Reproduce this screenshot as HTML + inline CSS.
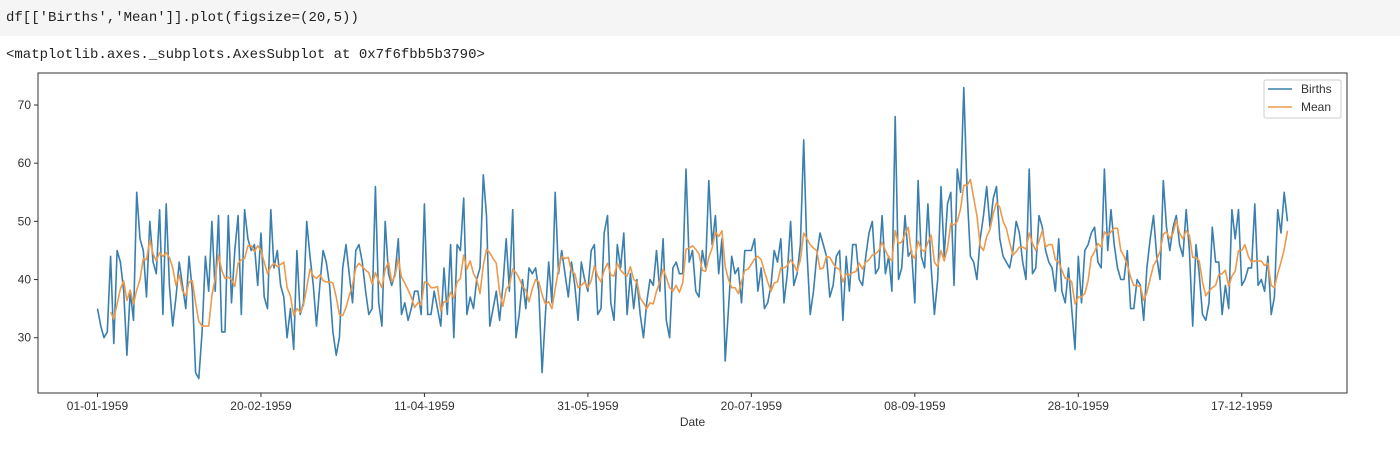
<!DOCTYPE html>
<html><head><meta charset="utf-8"><style>
body{margin:0;background:#fff;width:1400px;height:456px;overflow:hidden;font-family:"Liberation Sans",sans-serif}
.code{position:absolute;left:0;top:0;width:1400px;height:36px;background:#f5f5f5;font-family:"Liberation Mono",monospace;font-size:14px;line-height:36px;padding-left:6px;color:#222}
.out{position:absolute;left:6px;top:47px;font-family:"Liberation Mono",monospace;font-size:14px;color:#222}
</style></head><body>
<div class="code">df[['Births','Mean']].plot(figsize=(20,5))</div>
<div class="out">&lt;matplotlib.axes._subplots.AxesSubplot at 0x7f6fbb5b3790&gt;</div>
<svg id="chart" width="1400" height="456" style="position:absolute;left:0;top:0"></svg>
<script>
const births=[35,32,30,31,44,29,45,43,38,27,38,33,55,47,45,37,50,43,41,52,34,53,39,32,37,43,39,35,44,38,24,23,31,44,38,50,38,51,31,31,51,36,45,51,34,52,47,45,46,39,48,37,35,52,42,45,39,37,30,35,28,45,34,36,50,44,39,32,39,45,43,39,31,27,30,42,46,41,36,45,46,43,38,34,35,56,36,32,50,41,39,41,47,34,36,33,35,38,38,34,53,34,34,38,35,32,42,34,46,30,46,45,54,34,37,35,40,42,58,51,32,35,38,33,39,47,38,52,30,34,40,35,42,41,42,38,24,34,43,36,55,41,45,41,37,43,39,33,43,40,38,45,46,34,35,48,51,36,33,46,42,48,34,41,35,40,34,30,36,40,39,45,38,47,33,30,42,43,41,41,59,43,45,38,37,45,42,57,46,51,41,47,26,35,44,41,42,36,45,45,45,47,38,42,35,36,39,45,43,47,36,41,50,39,41,46,64,45,34,38,44,48,46,44,37,39,44,45,33,44,38,46,46,40,39,44,48,50,41,42,51,41,44,38,68,40,42,51,44,45,36,57,44,42,53,42,34,40,56,44,53,55,39,59,55,73,55,44,43,40,47,51,56,49,54,56,47,44,43,42,45,50,48,43,40,59,41,42,51,49,45,43,42,38,47,38,36,42,35,28,44,36,45,46,48,49,43,42,59,45,52,46,42,40,40,45,35,35,40,39,33,42,47,51,44,40,57,49,45,49,51,46,44,52,45,32,46,41,34,33,36,49,43,43,34,39,35,52,47,52,39,40,42,42,53,39,40,38,44,34,37,52,48,55,50];
const meanWindow=5;
const xTickDays=[0,50,100,150,200,250,300,350];
const xTickLabels=["01-01-1959","20-02-1959","11-04-1959","31-05-1959","20-07-1959","08-09-1959","28-10-1959","17-12-1959"];
const yTicks=[30,40,50,60,70];
const svg=document.getElementById('chart');const NS='http://www.w3.org/2000/svg';
const L=38,R=1347,T=73,B=393;
const n=births.length;const pad=(n-1)*0.05;
const X=d=>L+(d+pad)/((n-1)+2*pad)*(R-L);
const Y=v=>B-(v-20.5)/55*(B-T);
function el(t,a,p){const e=document.createElementNS(NS,t);for(const k in a)e.setAttribute(k,a[k]);(p||svg).appendChild(e);return e;}
const mean=births.map((v,i)=>i<meanWindow-1?null:births.slice(i-meanWindow+1,i+1).reduce((a,b)=>a+b,0)/meanWindow);
let p1=births.map((v,i)=>(i?'L':'M')+X(i).toFixed(1)+','+Y(v).toFixed(1)).join('');
const bl=el('path',{d:p1,fill:'none',stroke:'#3a7fae','stroke-width':1.6,'stroke-linejoin':'round'});


let p2='',f=true;mean.forEach((v,i)=>{if(v==null)return;p2+=(f?'M':'L')+X(i).toFixed(1)+','+Y(v).toFixed(1);f=false;});
const ml=el('path',{d:p2,fill:'none',stroke:'#ec9a4c','stroke-width':1.6,'stroke-linejoin':'round'});


const fr=el('rect',{x:L,y:T,width:R-L,height:B-T,fill:'none',stroke:'#333','stroke-width':1});


yTicks.forEach(v=>{el('line',{x1:L-4,x2:L,y1:Y(v),y2:Y(v),stroke:'#333'});
const t=el('text',{x:L-7,y:Y(v)+4,'text-anchor':'end','font-size':12,fill:'#333'});t.textContent=v;

});
xTickDays.forEach((d,i)=>{el('line',{x1:X(d),x2:X(d),y1:B,y2:B+4,stroke:'#333'});
const t=el('text',{x:X(d),y:B+17,'text-anchor':'middle','font-size':12,fill:'#333'});t.textContent=xTickLabels[i];

});
const xt=el('text',{x:(L+R)/2,y:B+33,'text-anchor':'middle','font-size':12,fill:'#333'});xt.textContent='Date';


const g=el('g',{});


el('rect',{x:1264,y:80,width:77,height:38,fill:'#fff',stroke:'#ccc',rx:2},g);
el('line',{x1:1268,x2:1292,y1:89,y2:89,stroke:'#3a7fae','stroke-width':1.6},g);
el('line',{x1:1268,x2:1292,y1:107,y2:107,stroke:'#ec9a4c','stroke-width':1.6},g);
const t1=el('text',{x:1301,y:93,'font-size':12,fill:'#333'},g);t1.textContent='Births';
const t2=el('text',{x:1301,y:111,'font-size':12,fill:'#333'},g);t2.textContent='Mean';
</script>
</body></html>
